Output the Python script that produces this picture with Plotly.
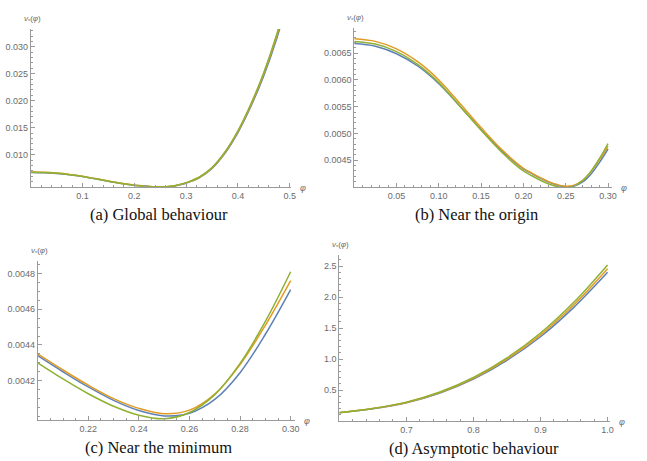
import plotly.graph_objects as go

# ---- data ----
PHI = [0.0, 0.025, 0.05, 0.075, 0.10, 0.125, 0.15, 0.175, 0.20,
       0.21, 0.22, 0.23, 0.24, 0.25, 0.26, 0.27, 0.28, 0.29, 0.30,
       0.325, 0.35, 0.375, 0.40, 0.425, 0.45, 0.475, 0.50,
       0.60, 0.65, 0.70, 0.75, 0.80, 0.85, 0.90, 0.95, 1.00]

V_BLUE = [0.00668, 0.00663, 0.00649, 0.00626, 0.00593, 0.00551, 0.00507, 0.00467, 0.00434,
          0.004250, 0.004165, 0.004090, 0.004033, 0.004003, 0.004018, 0.004095, 0.004245, 0.004460, 0.004710,
          0.00568, 0.00745, 0.01026, 0.01410, 0.01893, 0.02465, 0.03153, 0.03990,
          0.133, 0.197, 0.295, 0.452, 0.677, 0.980, 1.360, 1.838, 2.40]

V_ORANGE = [0.00677, 0.00672, 0.00658, 0.00634, 0.00600, 0.00556, 0.00511, 0.00469, 0.00435,
            0.004260, 0.004175, 0.004100, 0.004045, 0.004015, 0.004035, 0.004125, 0.004290, 0.004510, 0.004760,
            0.00576, 0.00755, 0.01040, 0.01430, 0.01920, 0.02500, 0.03200, 0.04050,
            0.135, 0.200, 0.300, 0.460, 0.690, 1.000, 1.390, 1.880, 2.46]

V_GREEN = [0.00672, 0.00667, 0.00653, 0.00629, 0.00595, 0.00551, 0.00506, 0.00464, 0.00430,
           0.004210, 0.004127, 0.004057, 0.004007, 0.003987, 0.004022, 0.004122, 0.004297, 0.004532, 0.004810,
           0.00581, 0.00761, 0.01049, 0.01443, 0.01938, 0.02524, 0.03232, 0.04090,
           0.137, 0.203, 0.305, 0.468, 0.703, 1.020, 1.420, 1.920, 2.52]

SERIES = [("blue", V_BLUE, "#5E81B5"), ("orange", V_ORANGE, "#E19C24"), ("green", V_GREEN, "#8FB032")]

CAPTIONS = ["(a) Global behaviour", "(b) Near the origin",
            "(c) Near the minimum", "(d) Asymptotic behaviour"]

W, H = 647, 461

# panel layout in pixels: (x0, x1), (ytop, ybottom)
PANELS = [
    dict(px=(31, 293), py=(29, 187), xr=(0, 0.502), yr=(0.0040, 0.0333), keep=(0, 0.5),
         xt=[0.1, 0.2, 0.3, 0.4, 0.5], xfmt=".1f", xminor=(0, 0.02),
         yt=[0.010, 0.015, 0.020, 0.025, 0.030], yfmt=".3f", yminor=(0, 0.001),
         cap=(160, 214)),
    dict(px=(357, 617), py=(28, 187), xr=(0, 0.305), yr=(0.0040, 0.00697), keep=(0, 0.30),
         xt=[0.05, 0.10, 0.15, 0.20, 0.25, 0.30], xfmt=".2f", xminor=(0, 0.01),
         yt=[0.0045, 0.0050, 0.0055, 0.0060, 0.0065], yfmt=".4f", yminor=(0, 0.0001),
         cap=(480, 214)),
    dict(px=(38, 297), py=(261, 420), xr=(0.20, 0.3016), yr=(0.00398, 0.00487), keep=(0.20, 0.30),
         xt=[0.22, 0.24, 0.26, 0.28, 0.30], xfmt=".2f", xminor=(0.20, 0.005),
         yt=[0.0042, 0.0044, 0.0046, 0.0048], yfmt=".4f", yminor=(0, 0.00005),
         cap=(160, 447)),
    dict(px=(342, 615), py=(255, 421), xr=(0.6, 1.004), yr=(0.0, 2.68), keep=(0.6, 1.0),
         xt=[0.7, 0.8, 0.9, 1.0], xfmt=".1f", xminor=(0.6, 0.02),
         yt=[0.5, 1.0, 1.5, 2.0, 2.5], yfmt=".1f", yminor=(0, 0.1),
         cap=(478, 448)),
]

AXC = "#9a9a9a"
LBC = "#6b6b6b"
TICKFONT = dict(family="Liberation Sans, Arial, sans-serif", size=9, color=LBC)

fig = go.Figure()
annotations = []
for i, p in enumerate(PANELS):
    k = "" if i == 0 else str(i + 1)
    xa, ya = "x" + k, "y" + k
    lo, hi = p["keep"]
    idx = [j for j, v in enumerate(PHI) if lo - 1e-9 <= v <= hi + 1e-9]
    xs = [PHI[j] for j in idx]
    for name, vals, col in SERIES:
        fig.add_trace(go.Scatter(x=xs, y=[vals[j] for j in idx], mode="lines", name=name,
                                 line=dict(color=col, width=1.5, shape="spline", smoothing=1.0),
                                 xaxis=xa, yaxis=ya, showlegend=False, hoverinfo="skip"))
    x0, x1 = p["px"]
    yt, yb = p["py"]
    common = dict(showgrid=False, zeroline=False, showline=True, linecolor=AXC, linewidth=1,
                  ticks="inside", ticklen=4, tickwidth=1, tickcolor=AXC, tickfont=TICKFONT,
                  tickmode="array", mirror=False)
    fig.layout["xaxis" + k] = dict(
        common, domain=[x0 / W, x1 / W], range=list(p["xr"]), anchor=ya,
        tickvals=p["xt"], ticktext=[format(v, p["xfmt"]) for v in p["xt"]],
        minor=dict(ticks="inside", ticklen=2, tickcolor=AXC, tickmode="linear",
                   tick0=p["xminor"][0], dtick=p["xminor"][1]))
    fig.layout["yaxis" + k] = dict(
        common, domain=[1 - yb / H, 1 - yt / H], range=list(p["yr"]), anchor=xa,
        tickvals=p["yt"], ticktext=[format(v, p["yfmt"]) for v in p["yt"]],
        minor=dict(ticks="inside", ticklen=2, tickcolor=AXC, tickmode="linear",
                   tick0=p["yminor"][0], dtick=p["yminor"][1]))
    # axis labels
    annotations.append(dict(x=(x0 - 9) / W, y=1 - (yt - 10) / H, xref="paper", yref="paper",
                            text="<i>v</i><sub>*</sub>(<i>φ</i>)", showarrow=False,
                            xanchor="left", yanchor="middle",
                            font=dict(family="Liberation Sans, Arial, sans-serif", size=8, color=LBC)))
    annotations.append(dict(x=(x1 + 7) / W, y=1 - (yb + 1) / H, xref="paper", yref="paper",
                            text="<i>φ</i>", showarrow=False, xanchor="left", yanchor="middle",
                            font=dict(family="Liberation Sans, Arial, sans-serif", size=9, color=LBC)))
    cx, cy = p["cap"]
    annotations.append(dict(x=cx / W, y=1 - cy / H, xref="paper", yref="paper",
                            text=CAPTIONS[i], showarrow=False, xanchor="center", yanchor="middle",
                            font=dict(family="Liberation Serif, DejaVu Serif, serif", size=16.5, color="#111")))

fig.update_layout(width=W, height=H, margin=dict(l=0, r=0, t=0, b=0),
                  paper_bgcolor="white", plot_bgcolor="white", annotations=annotations)
fig.write_html("out.html", post_script="document.body.style.margin='0px';",
               config={"displayModeBar": False})
